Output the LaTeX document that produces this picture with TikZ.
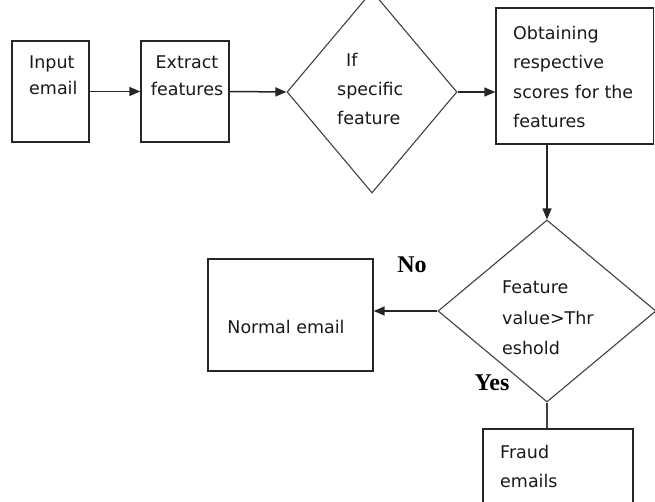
\documentclass[tikz,border=0pt]{standalone}
\usepackage{fontspec}
\setmainfont{DejaVu Sans}
\newfontfamily\labfont{Liberation Serif}
\usetikzlibrary{shapes.geometric,arrows.meta}
\begin{document}
\begin{tikzpicture}[x=1pt,y=-1pt,
  box/.style={draw=black!85,line width=1.4pt,inner sep=0pt},
  dia/.style={diamond,draw=black!75,line width=1.1pt,inner sep=0pt},
  txt/.style={font=\fontsize{17.5}{29}\selectfont,text=black!90,inner sep=0pt,align=left},
  lab/.style={font=\labfont\bfseries\fontsize{24}{24}\selectfont,text=black,inner sep=0pt},
  arr/.style={draw=black!85,line width=1.5pt,-{Triangle[length=11pt,width=9pt]}},
  ln/.style={draw=black!75,line width=1.5pt}]
\useasboundingbox (0,0) rectangle (655,502);
\clip (0,0) rectangle (655,502);
% shapes
\node[box,minimum width=77pt,minimum height=101pt] (in) at (50.5,91.5) {};
\node[box,minimum width=88pt,minimum height=101pt] (ex) at (185,91.5) {};
\node[dia,minimum width=170pt,minimum height=202pt] (d1) at (372,92) {};
\node[box,minimum width=157.5pt,minimum height=136pt] (ob) at (574.75,76) {};
\node[dia,minimum width=218pt,minimum height=182pt] (d2) at (547,311) {};
\node[box,minimum width=165pt,minimum height=112pt] (nm) at (290.5,315) {};
\node[box,minimum width=150pt,minimum height=100pt] (fr) at (558,479) {};
% texts
\node[txt,anchor=north west,font=\fontsize{17.5}{26}\selectfont] (tin) at (29,56) {Input\\email};
\node[txt,align=center,anchor=north,font=\fontsize{17.5}{27}\selectfont] (tex) at (187,56) {Extract\\features};
\node[txt,anchor=north west] (td1) at (337,53) {\hspace*{9pt}If\\specific\\feature};
\node[txt,anchor=north west,font=\fontsize{17.5}{29.5}\selectfont] (tob) at (513,26) {Obtaining\\respective\\scores for the\\features};
\node[txt,anchor=north west,font=\fontsize{17.5}{30.5}\selectfont] (td2) at (502,281) {Feature\\value>Thr\\eshold};
\node[txt] (tnm) at (286,327) {Normal email};
\node[txt,anchor=north west] (tfr) at (500,445) {Fraud\\emails};
\node[lab] (no) at (412,265) {No};
\node[lab] (yes) at (492,383) {Yes};
% connectors
\draw[arr] (in.east) -- (ex.west);
\draw[arr] (ex.east) -- (d1.west);
\draw[arr] (d1.east) -- (d1.east -| ob.west);
\draw[arr] (d2.north |- ob.south) -- (d2.north);
\draw[arr] (d2.west) -- (d2.west -| nm.east);
\draw[ln] (d2.south) -- (d2.south |- fr.north);
\end{tikzpicture}
\end{document}
